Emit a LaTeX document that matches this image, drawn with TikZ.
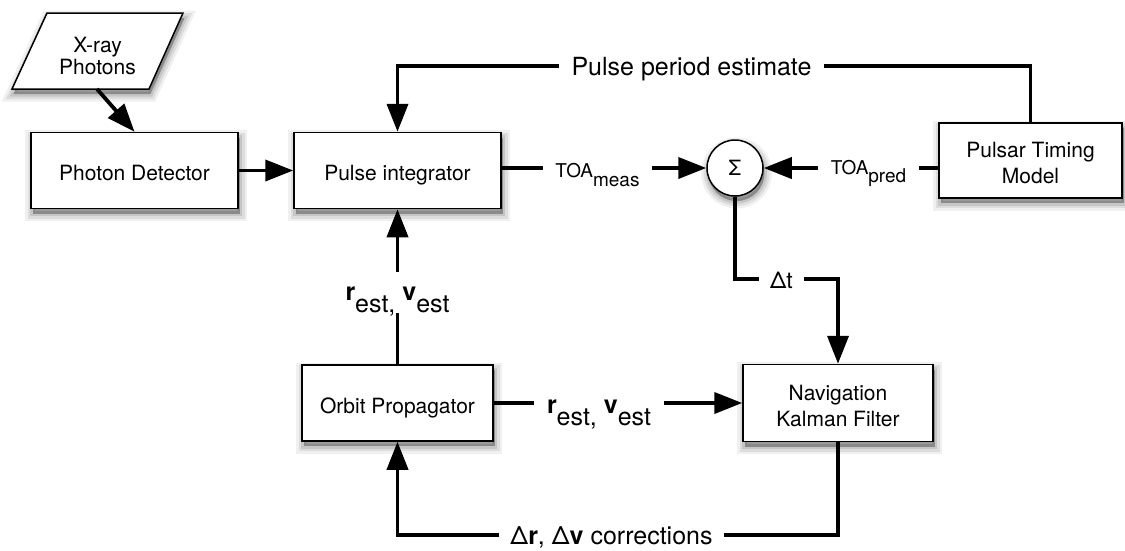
\documentclass[tikz,border=0pt]{standalone}
\usepackage{fontspec}
\setmainfont{TeX Gyre Heros}
\usetikzlibrary{arrows.meta}
\newcommand{\boxfont}{\fontsize{21}{26}\selectfont}
\newcommand{\bigfont}{\fontsize{25}{30}\selectfont}
\newcommand{\toafont}{\fontsize{19}{22}\selectfont}
\newcommand{\lowsub}[2]{\raisebox{-#1}{#2}}
\newcommand{\bt}[1]{\raisebox{0pt}[\dimexpr\height+10pt\relax][\depth]{\begin{tabular}{@{}c@{}}#1\end{tabular}}}
\newcommand{\rvlabel}{{\bfseries r}\lowsub{0.5em}{est,} {\bfseries v}\lowsub{0.5em}{est}}
\begin{document}
\begin{tikzpicture}[x=1pt,y=-1pt,
  shd/.style={
    preaction={draw=black,draw opacity=0.06,line width=15pt,transform canvas={xshift=1.5pt,yshift=-5pt}},
    preaction={draw=black,draw opacity=0.08,line width=10pt,transform canvas={xshift=1.5pt,yshift=-5pt}},
    preaction={draw=black,draw opacity=0.10,line width=5pt,transform canvas={xshift=1.5pt,yshift=-5pt}},
    preaction={fill=black,fill opacity=0.3,transform canvas={xshift=1.5pt,yshift=-5pt}}},
  box/.style={draw,line width=1.5pt,fill=white,inner sep=0pt,font=\boxfont,shd},
  conn/.style={line width=3.8pt},
  arr/.style={conn,-{Triangle[length=28pt,width=21pt]}},
  lbl/.style={inner xsep=12pt,inner ysep=0pt,font=\bigfont},
  toa/.style={inner xsep=12.5pt,inner ysep=0pt,font=\toafont}]
\useasboundingbox (0,0) rectangle (1125,550);

% X-ray photons (parallelogram)
\draw[line width=1.5pt,fill=white,shd] (12,89) -- (47,13) -- (183,13) -- (149,89) -- cycle;
\node[font=\fontsize{21}{22}\selectfont,align=center] (xray) at (97.5,56) {X-ray\\Photons};
\coordinate (xb) at (97,89);

% blocks
\node[box,minimum width=207pt,minimum height=76pt] (det) at (134.5,170.5) {\bt{Photon Detector}};
\node[box,minimum width=207pt,minimum height=76pt] (pulse) at (397.5,170.5) {\bt{Pulse integrator}};
\node[box,circle,minimum size=56pt,font=\fontsize{21}{24}\selectfont] (sum) at (735,168) {Σ};
\node[box,minimum width=183pt,minimum height=75pt] (ptm) at (1030.5,160.5) {\bt{Pulsar Timing\\Model}};
\node[box,minimum width=191pt,minimum height=76pt] (orbit) at (397.5,403) {\bt{Orbit Propagator}};
\node[box,minimum width=190pt,minimum height=77pt] (nav) at (838,403) {\bt{Navigation\\Kalman Filter}};

% photons -> detector -> integrator
\draw[arr] (xb) -- (det.north);
\draw[arr] (det.east) -- (pulse.west);

% pulse period estimate feedback
\node[lbl,anchor=base] (ppe) at (691.5,75) {Pulse period estimate};
\draw[conn] (ptm.north) |- ([yshift=9pt]ppe.base east);
\draw[arr] ([yshift=9pt]ppe.base west) -| (pulse.north);

% TOA meas
\node[toa,anchor=base] (tm) at (597.5,177) {TOA\lowsub{9pt}{meas}};
\draw[conn] (pulse.east |- sum.west) -- (tm.west |- sum.west);
\draw[arr] (tm.east |- sum.west) -- (sum.west);

% TOA pred
\node[toa,anchor=base] (tp) at (868.5,174) {TOA\lowsub{8pt}{pred}};
\draw[conn] (ptm.west |- sum.east) -- (tp.east |- sum.east);
\draw[arr] (tp.west |- sum.east) -- (sum.east);

% Delta t
\node[lbl,anchor=base,font=\fontsize{23}{28}\selectfont,inner xsep=11pt] (dt) at (781.5,288) {Δt};
\draw[conn] (sum.south) |- ([yshift=9pt]dt.base west);
\draw[arr] ([yshift=9pt]dt.base east) -| (nav.north);

% r,v to pulse integrator
\node[lbl,anchor=base,inner sep=0pt] (rv1) at (397.5,300) {\rvlabel};
\draw[conn] (orbit.north) -- ([yshift=-13pt]rv1.base);
\draw[arr] ([yshift=28pt]rv1.base) -- (pulse.south);

% r,v to navigation filter
\node[lbl,anchor=base,inner xsep=13pt] (rv2) at (599,413) {\rvlabel};
\draw[conn] (orbit.east) -- (orbit.east -| rv2.west);
\draw[arr] (rv2.east |- nav.west) -- (nav.west);

% corrections
\node[lbl,anchor=base,inner xsep=11pt] (corr) at (611.5,544) {Δ\textbf{r}, Δ\textbf{v} corrections};
\draw[conn] (nav.south) |- ([yshift=9pt]corr.base east);
\draw[arr] ([yshift=9pt]corr.base west) -| (orbit.south);
\end{tikzpicture}
\end{document}
